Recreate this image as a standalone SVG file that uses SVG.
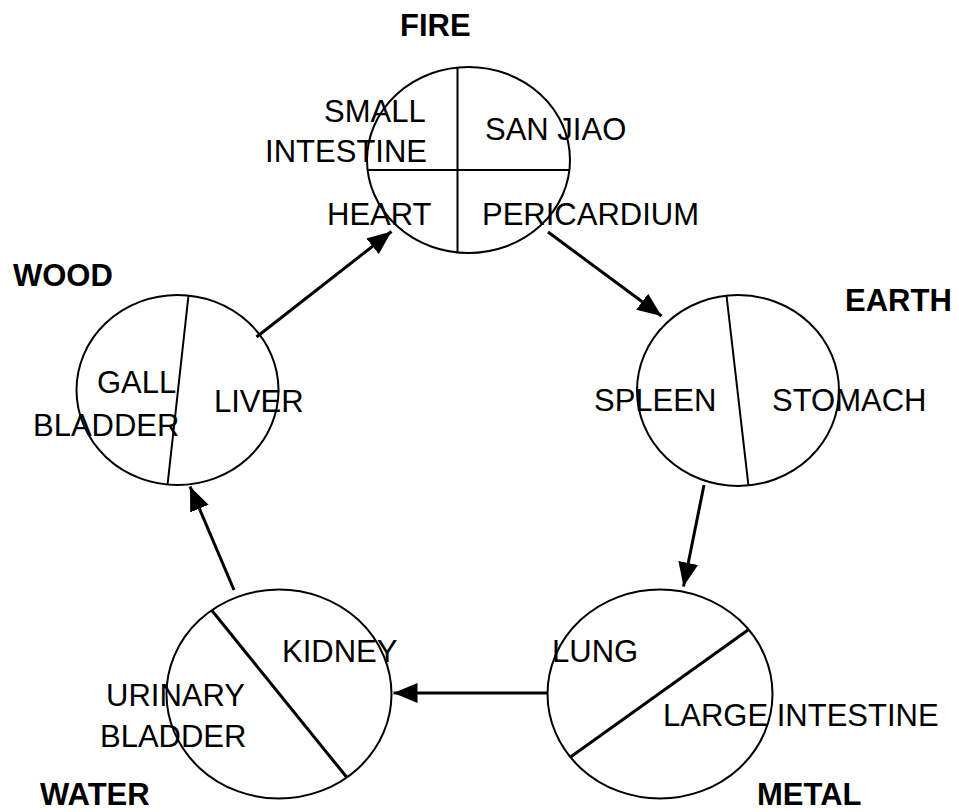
<svg xmlns="http://www.w3.org/2000/svg" width="959" height="812" viewBox="0 0 959 812">
  <style>
    .ring { fill: none; stroke: #000; stroke-width: 2; }
    .split { stroke: #000; stroke-width: 2; }
    .split-bold { stroke: #000; stroke-width: 3; }
    .flow { stroke: #000; stroke-width: 3; fill: none; marker-end: url(#head); }
    text { font-family: "Liberation Sans", Arial, sans-serif; font-size: 31px; fill: #000; }
    .element { font-weight: bold; }
  </style>
  <defs>
    <marker id="head" markerUnits="userSpaceOnUse" viewBox="0 0 24 20" refX="24" refY="10" markerWidth="24" markerHeight="20" orient="auto">
      <path d="M0,0 L24,10 L0,20 Z" fill="#000"/>
    </marker>
  </defs>
  <rect width="959" height="812" fill="#fff"/>

  <!-- Fire -->
  <g id="fire">
    <ellipse class="ring" cx="468.5" cy="160" rx="101.5" ry="93"/>
    <line class="split" x1="457.5" y1="67" x2="457.5" y2="253"/>
    <line class="split" x1="367" y1="170" x2="570" y2="170"/>
    <text class="element" x="400" y="36">FIRE</text>
    <text x="324" y="122">SMALL</text>
    <text x="427" y="162" text-anchor="end">INTESTINE</text>
    <text x="485" y="140">SAN JIAO</text>
    <text x="327" y="225">HEART</text>
    <text x="482" y="225">PERICARDIUM</text>
  </g>

  <!-- Wood -->
  <g id="wood">
    <ellipse class="ring" cx="177.5" cy="390" rx="101" ry="95"/>
    <line class="split" x1="188.5" y1="295.5" x2="167.5" y2="485"/>
    <text class="element" x="13" y="286">WOOD</text>
    <text x="97" y="393">GALL</text>
    <text x="33" y="436">BLADDER</text>
    <text x="214" y="412">LIVER</text>
  </g>

  <!-- Earth -->
  <g id="earth">
    <ellipse class="ring" cx="738" cy="390.5" rx="101" ry="95.5"/>
    <line class="split" x1="726.5" y1="295.5" x2="748.5" y2="486"/>
    <text class="element" x="845" y="311">EARTH</text>
    <text x="594" y="411">SPLEEN</text>
    <text x="772" y="411">STOMACH</text>
  </g>

  <!-- Metal -->
  <g id="metal">
    <ellipse class="ring" cx="660" cy="694" rx="112.5" ry="104.5"/>
    <line class="split-bold" x1="748" y1="630" x2="570.5" y2="757"/>
    <text class="element" x="757" y="805">METAL</text>
    <text x="552" y="662">LUNG</text>
    <text x="663" y="726">LARGE INTESTINE</text>
  </g>

  <!-- Water -->
  <g id="water">
    <ellipse class="ring" cx="279" cy="694" rx="112.5" ry="104.5"/>
    <line class="split-bold" x1="211.5" y1="610" x2="346.5" y2="777"/>
    <text class="element" x="40" y="805">WATER</text>
    <text x="282" y="662">KIDNEY</text>
    <text x="106" y="706">URINARY</text>
    <text x="100" y="747">BLADDER</text>
  </g>

  <!-- Generating cycle -->
  <g id="connectors">
    <line class="flow" x1="256.5" y1="337" x2="391.5" y2="231.5"/>
    <line class="flow" x1="548" y1="232" x2="661.5" y2="316"/>
    <line class="flow" x1="704" y1="485" x2="683.5" y2="586.5"/>
    <line class="flow" x1="547.5" y1="693" x2="393.5" y2="693"/>
    <line class="flow" x1="234" y1="590" x2="190" y2="486.5"/>
  </g>
</svg>
